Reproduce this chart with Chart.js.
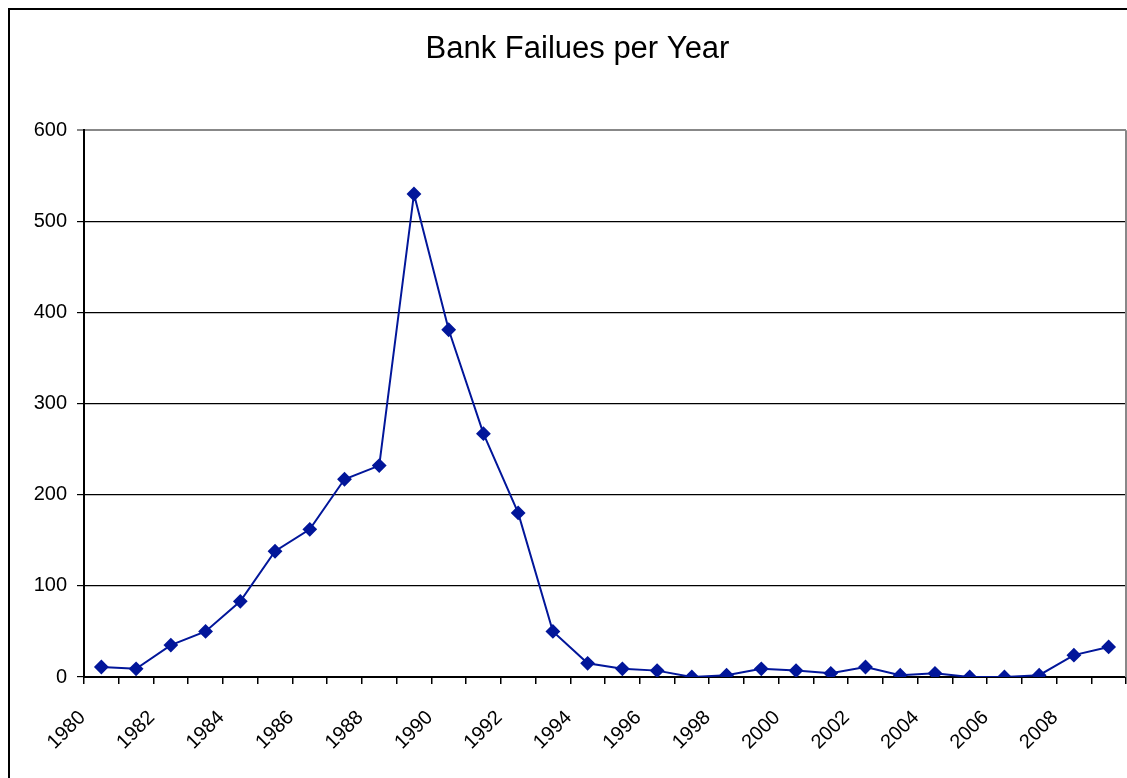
<!DOCTYPE html>
<html>
<head>
<meta charset="utf-8">
<script src="https://cdn.jsdelivr.net/npm/chart.js"></script>
<style>
  html, body { margin: 0; padding: 0; background: #fff; overflow: hidden; }
  #wrap { width: 1127px; height: 778px; }
</style>
</head>
<body>
<div id="wrap"><canvas id="bankChart"></canvas></div>
<script>
const years = ["1980", "1981", "1982", "1983", "1984", "1985", "1986", "1987", "1988", "1989",
  "1990", "1991", "1992", "1993", "1994", "1995", "1996", "1997", "1998", "1999",
  "2000", "2001", "2002", "2003", "2004", "2005", "2006", "2007", "2008", "2009"];
const failures = [11, 9, 35, 50, 83, 138, 162, 217, 232, 530,
  381, 267, 180, 50, 15, 9, 7, 0, 2, 9,
  7, 4, 11, 2, 4, 0, 0, 2, 24, 33];
const yTicks = [0, 100, 200, 300, 400, 500, 600];

const fontFamily = "'Liberation Sans', Arial, sans-serif";
const lineColor = "#02169a";

// outer frame + gray right edge of the plot area
const framePlugin = {
  id: "frame",
  afterDraw(chart) {
    const ctx = chart.ctx;
    const a = chart.chartArea;
    ctx.save();
    ctx.strokeStyle = "#000";
    ctx.lineWidth = 2;
    ctx.strokeRect(9, 9, 1400, 1000);
    ctx.strokeStyle = "#888";
    ctx.lineWidth = 2;
    ctx.beginPath();
    ctx.moveTo(a.right, a.top);
    ctx.lineTo(a.right, a.bottom);
    ctx.stroke();
    ctx.restore();
  }
};

new Chart(document.getElementById("bankChart"), {
  type: "line",
  data: {
    labels: years,
    datasets: [{
      label: "Bank Failures",
      data: failures,
      borderColor: lineColor,
      backgroundColor: lineColor,
      borderWidth: 2,
      pointStyle: "rectRot",
      pointRadius: 6,
      pointHoverRadius: 6,
      tension: 0,
      fill: false
    }]
  },
  options: {
    responsive: true,
    maintainAspectRatio: false,
    animation: false,
    layout: { autoPadding: false, padding: { left: 29, right: 1, top: 0, bottom: 0 } },
    plugins: {
      legend: { display: false },
      tooltip: { enabled: false },
      title: {
        display: true,
        text: "Bank Failues per Year",
        color: "#000",
        font: { family: fontFamily, size: 31, weight: "normal" },
        padding: { top: 31, bottom: 62 }
      }
    },
    scales: {
      x: {
        type: "category",
        offset: true,
        grid: {
          offset: true,
          drawOnChartArea: false,
          drawTicks: true,
          tickLength: 7,
          color: "#000",
          lineWidth: 1.5
        },
        border: { color: "#000", width: 2 },
        ticks: {
          autoSkip: false,
          minRotation: 45,
          maxRotation: 45,
          labelOffset: -19,
          padding: 22,
          color: "#000",
          font: { family: fontFamily, size: 20 },
          callback: (v, i) => (i % 2 === 0 ? years[i] : "")
        },
        afterFit: (s) => {
          s.height = 101;
          s.paddingLeft = 0;
          s.paddingRight = 0;
        }
      },
      y: {
        min: 0,
        max: 600,
        afterBuildTicks: (s) => { s.ticks = yTicks.map(v => ({ value: v })); },
        grid: {
          color: (c) => (c.tick && c.tick.value === 600 ? "#888" : "#000"),
          lineWidth: (c) => (c.tick && c.tick.value === 600 ? 2 : 1.2),
          drawTicks: true,
          tickLength: 7
        },
        border: { color: "#000", width: 2 },
        ticks: {
          padding: 10,
          color: "#000",
          font: { family: fontFamily, size: 20 }
        },
        afterFit: (s) => {
          s.width = 55;
          s.paddingTop = 0;
          s.paddingBottom = 0;
        }
      }
    }
  },
  plugins: [framePlugin]
});
</script>
</body>
</html>
